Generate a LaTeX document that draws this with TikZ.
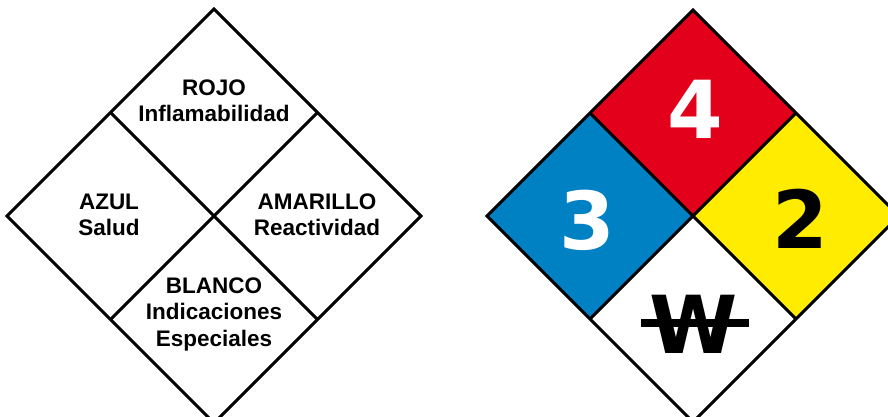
\documentclass[tikz,border=0pt]{standalone}
\usepackage{fontspec}
\setmainfont{Liberation Sans}
\newfontfamily\numfont{DejaVu Sans}
\usepackage{xcolor}
\definecolor{NfpaRed}{HTML}{E2001A}
\definecolor{NfpaBlue}{HTML}{0081C4}
\definecolor{NfpaYellow}{HTML}{FFEC00}
\usetikzlibrary{calc}
\tikzset{
  % Diamond styles
  rombo/.style={draw=black, line width=3pt, line join=miter},
  % Text styles
  labeltext/.style={align=center, font=\fontsize{22.5}{26.5}\selectfont\bfseries, inner sep=0pt},
  numtext/.style={anchor=base, inner sep=0pt, font=\numfont\fontsize{80}{80}\selectfont\bfseries}
}

\begin{document}
\begin{tikzpicture}[x=1pt, y=-1pt]
  \fill[white] (0,0) rectangle (888,417);
  \useasboundingbox (0,0) rectangle (888,417);
  \clip (0,0) rectangle (888,417);

  % Legend diamond
  \draw[rombo] (214,9) -- (421,216) -- (214,423) -- (7,216) -- cycle;
  \draw[rombo] (110.5,112.5) -- (317.5,319.5);
  \draw[rombo] (317.5,112.5) -- (110.5,319.5);

  \node[labeltext] (rojo) at (214,101) {ROJO\\Inflamabilidad};
  \node[labeltext] (azul) at (109,215) {AZUL\\Salud};
  \node[labeltext] (amarillo) at (317,215) {AMARILLO\\Reactividad};
  \node[labeltext] (blanco) at (214,314) {BLANCO\\Indicaciones\\Especiales};

  % Example diamond
  \fill[NfpaRed] (693,10) -- (796,113) -- (693,216) -- (590,113) -- cycle;
  \fill[NfpaBlue] (590,113) -- (693,216) -- (590,319) -- (487,216) -- cycle;
  \fill[NfpaYellow] (796,113) -- (899,216) -- (796,319) -- (693,216) -- cycle;
  \draw[rombo] (693,10) -- (899,216) -- (693,422) -- (487,216) -- cycle;
  \draw[rombo] (590,113) -- (796,319);
  \draw[rombo] (796,113) -- (590,319);

  \node[numtext, text=white] (fuego) at (695,139) {4};
  \node[numtext, text=white] (salud) at (587,249) {3};
  \node[numtext, text=black] (reac) at (800,248) {2};
  \node[numtext, text=black] (agua) at (694,353) {W};
  \draw[line width=8pt] (641,323) -- (749,323);
\end{tikzpicture}
\end{document}
